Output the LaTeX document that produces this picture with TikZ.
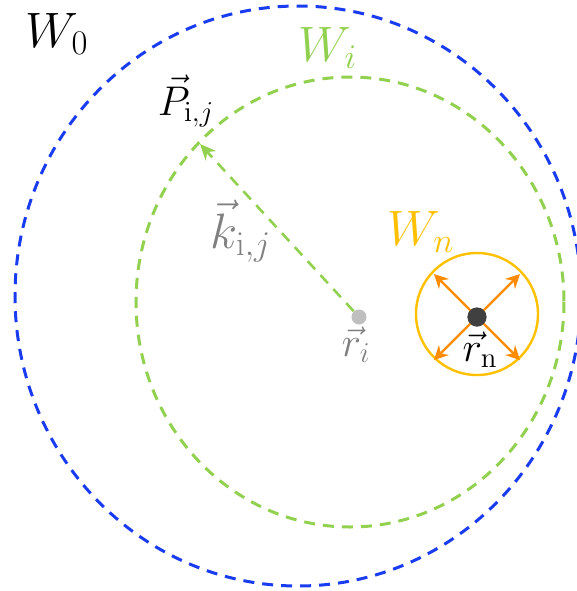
\documentclass[tikz,border=0pt]{standalone}
\usetikzlibrary{arrows.meta, positioning, calc}
\usepackage{xcolor}
\definecolor{ringBlue}{HTML}{1A3CF0}
\definecolor{ringGreen}{HTML}{92D050}
\definecolor{ringGold}{HTML}{FFC000}
\definecolor{arrOrange}{HTML}{FF8C00}
\definecolor{dotGray}{HTML}{BFBFBF}
\definecolor{dotDark}{HTML}{404040}
\tikzset{
    >=Stealth,
    % Rings
    ring/.style={line width=1.5pt, dash pattern=on 5.5pt off 4pt},
    % Points
    pt/.style={circle, inner sep=0pt, minimum size=#1},
    % Arrows
    kvec/.style={->, ringGreen, line width=1.3pt, dash pattern=on 5.5pt off 4pt,
                 >={Stealth[length=8pt,width=7pt]}},
    spread/.style={->, arrOrange, line width=1.1pt, >={Stealth[length=7pt,width=7pt]}},
    % Labels
    big/.style={inner sep=0pt, font=\fontsize{25}{29}\selectfont},
    mid/.style={inner sep=0pt, font=\fontsize{22}{26}\selectfont}
}
\begin{document}
\begin{tikzpicture}[x=0.5pt, y=-0.5pt]
\useasboundingbox (0,0) rectangle (577,591);
\clip (0,0) rectangle (577,591);

% outer and inner domains
\draw[ring, ringBlue] (298,296) ellipse [x radius=283, y radius=290];
\draw[ring, ringGreen] (350,302) ellipse [x radius=214, y radius=225];
\draw[ringGold, line width=1.2pt] (477,314) circle [radius=61];

% points
\node[pt=7.5pt, fill=dotGray] (ri) at (359,317) {};
\coordinate (pij) at (200,144);
\node[pt=9.5pt, fill=dotDark] (rn) at (477,317) {};

% vectors
\draw[kvec] (ri) -- (pij);
\foreach \dx/\dy in {-43/-43, 43/-43, -43/43, 43/43}
    \draw[spread] (rn.center) -- ++(\dx,\dy);
\node[pt=9.5pt, fill=dotDark] at (rn) {};

% labels
\node[big] (w0) at (57,34) {$W_0$};
\node[big, text=ringGreen] (wi) at (328,48) {$W_i$};
\node[big, text=ringGold] (wn) at (421,232) {$W_n$};
\node[mid] (plbl) at (186,101) {$\vec{P}_{\mathrm{i},j}$};
\node[big, text=gray] (klbl) at (241,231) {$\vec{k}_{\mathrm{i},j}$};
\node[mid, text=gray] (rilbl) at (356,345) {$\vec{r}_i$};
\node[mid] (rnlbl) at (480,350) {$\vec{r}_{\mathrm{n}}$};

\end{tikzpicture}
\end{document}
